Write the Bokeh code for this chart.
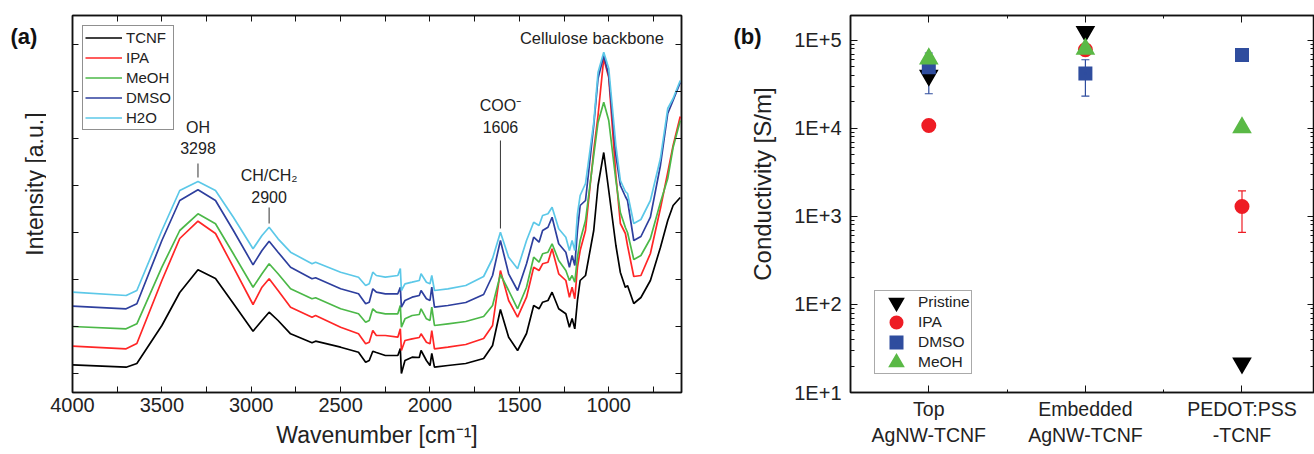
from bokeh.plotting import figure
from bokeh.layouts import row
from bokeh.models import (Range1d, FixedTicker, LinearAxis, Legend, LegendItem,
                          Label, Whisker, TeeHead, ColumnDataSource)
from bokeh.embed import file_html
from bokeh.resources import INLINE

FONT = "Liberation Sans"
H = 454

# ---------------- Panel (a): FTIR spectra ----------------
wavenumber = [4000, 3700, 3640, 3500, 3400, 3298, 3200, 3100, 2990, 2940,
              2900, 2850, 2780, 2660, 2640, 2500, 2400, 2360, 2340, 2320,
              2300, 2250, 2180, 2166, 2160, 2140, 2100, 2060, 2050, 2020,
              2000, 1990, 1975, 1900, 1800, 1700, 1650, 1606, 1560, 1510,
              1460, 1420, 1390, 1370, 1340, 1317, 1280, 1240, 1220, 1205,
              1190, 1175, 1160, 1130, 1084, 1060, 1028, 1000, 960, 935,
              907, 895, 860, 820, 767, 711, 670, 640, 600]

tcnf = [27.7, 25.3, 29, 67, 100, 122.7, 114, 89, 61.3, 72,
        80.3, 72, 58.7, 49.7, 51.3, 45.3, 40.3, 30.3, 32, 41.3,
        40, 37, 37, 44, 19, 32, 35.3, 35, 42, 32,
        27, 39, 25.3, 27, 29, 34, 47, 83, 55.3, 42,
        59, 87, 83.7, 90.3, 92, 100.3, 83.7, 78.7, 65.3, 74,
        63.7, 92, 112, 117, 162, 207, 240, 202, 147, 120,
        105, 107, 89, 95, 112, 145, 172, 187, 195]

ipa = [46.3, 43.7, 49, 112, 154, 171.3, 159, 125.3, 88, 105.3,
       113.7, 102, 85.3, 75.3, 77, 65.3, 58.7, 48.7, 50.3, 62,
       57, 57, 55.3, 63.7, 42, 52, 53.7, 55, 58.7, 50.3,
       48.7, 62, 43.7, 45.3, 48, 54, 67, 122, 92, 75.3,
       95.3, 125.3, 122, 128.7, 130.3, 143.7, 118.7, 112, 95.3, 105.3,
       93.7, 125.3, 142, 162, 242, 277, 334, 315, 217, 169,
       159, 147, 116, 117, 139, 184, 220, 247, 276]

meoh = [66, 63.7, 68.7, 125.3, 162, 178.7, 168.7, 138.7, 105.3, 118.7,
        128.7, 118.7, 103.7, 93.7, 94.7, 83.7, 78.7, 70.3, 72, 83.7,
        80.3, 78.7, 78.7, 87, 65.3, 73.7, 77, 78, 83.7, 73.7,
        72, 85.3, 67, 68.7, 71, 76, 87, 118, 102, 83.7,
        105.3, 135.3, 130.3, 138.7, 140.3, 148.7, 132, 122, 112, 117,
        110.3, 135.3, 152, 172, 237, 270, 290.3, 272, 212, 180,
        165, 160, 133, 137, 154, 190, 214, 245, 272]

dmso = [86.3, 83.7, 88.7, 152, 192, 202.7, 192, 162, 127.7, 142,
        151.3, 140.3, 125.3, 113.7, 114.7, 103.7, 98.7, 88.7, 90.3, 103.7,
        100.3, 98.7, 98.7, 105.3, 85.3, 92, 95.3, 97, 102, 93.7,
        92, 105.3, 85.3, 87, 90, 98, 117, 152, 118.7, 102,
        128.7, 155.3, 150.3, 162, 165.3, 175.3, 148.7, 140.3, 125.3, 137,
        127, 162, 187, 192, 267, 314, 337, 317, 237, 207,
        196, 192, 152, 156, 175.3, 227, 279, 292, 310]

h2o = [100.3, 97, 102, 162, 202, 211, 202, 175.3, 143.7, 157,
       165.3, 153.7, 140.3, 128.7, 130.3, 120.3, 115.3, 107, 108.7, 120.3,
       117, 115.3, 117, 124, 102, 108.7, 110.3, 112, 118.7, 110.3,
       108.7, 117, 102, 103.7, 107, 116, 134, 160.3, 135.3, 123.7,
       152, 170.3, 167, 177, 178.7, 185.3, 163.7, 155.3, 142, 152,
       142, 178.7, 197, 209, 270, 320, 340.3, 324, 247, 212,
       201, 199, 169, 173, 192, 234, 284, 294, 312]

spectra_names = ["TCNF", "IPA", "MeOH", "DMSO", "H2O"]
spectra_colors = ["#000000", "#ff2626", "#4cb848", "#2e3f9e", "#5cc8e8"]

peak_names = ["OH", "CH/CH\u2082", "COO\u207b"]
peak_wavenumbers = [3298, 2900, 1606]
peak_name_y = [265, 217, 287]
peak_number_y = [245, 195.5, 265.5]
leader_bottom = [215, 169, 164]
leader_top = [229, 185, 252]

x_major = [4000, 3500, 3000, 2500, 2000, 1500, 1000]
x_minor = [3750, 3250, 2750, 2250, 1750, 1250, 750]
y_ticks_a = [19, 66, 113, 160, 207, 254, 301, 348]


def style_ticks(ax, tick_len=6, minor_len=6):
    ax.major_tick_in = tick_len
    ax.major_tick_out = 0
    ax.minor_tick_in = minor_len
    ax.minor_tick_out = 0
    ax.axis_line_width = 1.5
    ax.axis_line_color = "#111111"
    ax.major_tick_line_color = "#111111"
    ax.minor_tick_line_color = "#111111"
    ax.major_label_text_font = FONT
    ax.major_label_text_color = "#222222"
    ax.axis_label_text_font = FONT
    ax.axis_label_text_font_style = "normal"
    ax.axis_label_text_color = "#222222"


def hide_labels(ax):
    ax.major_label_text_color = None
    ax.major_label_text_alpha = 0
    ax.major_label_standoff = 0
    ax.axis_label = None


def side_panel(width):
    f = figure(width=width, height=H, x_range=Range1d(0, width), y_range=Range1d(0, H),
               x_axis_location=None, y_axis_location=None, min_border=0,
               output_backend="svg", toolbar_location=None)
    f.outline_line_color = None
    f.grid.visible = False
    return f


# left strip for panel (a): panel letter and y-axis title
fa = side_panel(46)
fa.add_layout(Label(x=10, y=H - 25, text="(a)", text_align="left", text_baseline="middle",
                    text_font=FONT, text_font_size="22px", text_font_style="bold",
                    text_color="#111111"))
fa.add_layout(Label(x=34, y=H - 203, text="Intensity [a.u.]", angle=90, angle_units="deg",
                    text_align="center", text_baseline="middle",
                    text_font=FONT, text_font_size="23px", text_color="#222222"))

pa = figure(width=662, height=H, x_range=Range1d(4000, 593), y_range=Range1d(0, 377),
            output_backend="svg", toolbar_location=None,
            min_border_left=26, min_border_right=27, min_border_top=15, min_border_bottom=62)
pa.grid.visible = False
pa.outline_line_color = "#111111"
pa.outline_line_width = 1.5

items_a = []
for name, vals, col in zip(spectra_names, [tcnf, ipa, meoh, dmso, h2o], spectra_colors):
    r = pa.line(wavenumber, vals, line_color=col, line_width=1.7)
    items_a.append(LegendItem(label=name, renderers=[r]))

pa.segment(x0=peak_wavenumbers, y0=leader_bottom, x1=peak_wavenumbers, y1=leader_top,
           line_color="#333333", line_width=1)

for nm, wn, ny, nuy in zip(peak_names, peak_wavenumbers, peak_name_y, peak_number_y):
    pa.add_layout(Label(x=wn, y=ny, text=nm, text_align="center", text_baseline="middle",
                        text_font=FONT, text_font_size="16px", text_color="#222222"))
    pa.add_layout(Label(x=wn, y=nuy, text=str(wn), text_align="center", text_baseline="middle",
                        text_font=FONT, text_font_size="16px", text_color="#222222"))
pa.add_layout(Label(x=1094, y=355, text="Cellulose backbone", text_align="center",
                    text_baseline="middle", text_font=FONT, text_font_size="16.5px",
                    text_color="#222222"))

xa = pa.xaxis[0]
xa.ticker = FixedTicker(ticks=x_major, minor_ticks=x_minor)
style_ticks(xa)
xa.major_label_text_font_size = "20px"
xa.major_label_standoff = 5
xa.axis_label = "Wavenumber [cm\u207b\u00b9]"
xa.axis_label_text_font_size = "23px"
xa.axis_label_standoff = 7

ya = pa.yaxis[0]
ya.ticker = FixedTicker(ticks=y_ticks_a)
style_ticks(ya)
hide_labels(ya)

top_a = LinearAxis(ticker=FixedTicker(ticks=x_major, minor_ticks=x_minor))
style_ticks(top_a)
hide_labels(top_a)
pa.add_layout(top_a, "above")
right_a = LinearAxis(ticker=FixedTicker(ticks=y_ticks_a))
style_ticks(right_a)
hide_labels(right_a)
pa.add_layout(right_a, "right")

leg_a = Legend(items=items_a, location="top_left", margin=10, padding=2, spacing=1,
               glyph_width=37, glyph_height=19, label_height=19, label_standoff=4,
               label_text_font=FONT, label_text_font_size="15px", label_text_color="#222222",
               border_line_color="#222222", border_line_width=1, background_fill_alpha=1)
pa.add_layout(leg_a)

# ---------------- Panel (b): conductivity ----------------
sample_pos = [1, 2, 3]
sample_labels = ["Top\nAgNW-TCNF", "Embedded\nAgNW-TCNF", "PEDOT:PSS\n-TCNF"]
pristine = [4.0e4, 1.26e5, 21.5]
ipa_cond = [1.08e4, 7.83e4, 1.30e3]
dmso_cond = [4.95e4, 4.22e4, 6.83e4]
meoh_cond = [6.2e4, 8.0e4, 1.02e4]

dmso_err_pos = [1, 2]
dmso_err_upper = [7.2e4, 6.03e4]
dmso_err_lower = [2.48e4, 2.33e4]
ipa_err_pos = [3]
ipa_err_upper = [1.95e3]
ipa_err_lower = [6.6e2]

y_major_b = [10, 100, 1000, 10000, 100000]
y_minor_b = [m * d for d in [10, 100, 1000, 10000, 100000] for m in range(2, 10)]

# left strip for panel (b): panel letter and y-axis title
fb = side_panel(72)
fb.add_layout(Label(x=25, y=H - 25, text="(b)", text_align="left", text_baseline="middle",
                    text_font=FONT, text_font_size="22px", text_font_style="bold",
                    text_color="#111111"))
fb.add_layout(Label(x=54, y=H - 203, text="Conductivity [S/m]", angle=90, angle_units="deg",
                    text_align="center", text_baseline="middle",
                    text_font=FONT, text_font_size="24px", text_color="#222222"))

pb = figure(width=534, height=H, x_range=Range1d(0.5, 3.463), y_range=Range1d(10, 1.92e5),
            y_axis_type="log", output_backend="svg", toolbar_location=None,
            min_border_left=70, min_border_right=0, min_border_top=15, min_border_bottom=62)
pb.grid.visible = False
pb.outline_line_color = "#111111"
pb.outline_line_width = 1.5

C_BLACK, C_RED, C_BLUE, C_GREEN = "#000000", "#ee1c24", "#2f4d9e", "#5ab946"

r_pr = pb.scatter(sample_pos, pristine, marker="inverted_triangle", size=11,
                  fill_color=C_BLACK, line_color=C_BLACK, line_width=5, line_join="miter")
r_ipa = pb.scatter(sample_pos, ipa_cond, marker="circle", size=9,
                   fill_color=C_RED, line_color=C_RED, line_width=6)
r_dm = pb.scatter(sample_pos, dmso_cond, marker="square", size=8,
                  fill_color=C_BLUE, line_color=C_BLUE, line_width=6, line_join="miter")
r_me = pb.scatter(sample_pos, meoh_cond, marker="triangle", size=11,
                  fill_color=C_GREEN, line_color=C_GREEN, line_width=5, line_join="miter")

src_dm = ColumnDataSource(dict(x=dmso_err_pos, up=dmso_err_upper, lo=dmso_err_lower))
pb.add_layout(Whisker(source=src_dm, base="x", upper="up", lower="lo", dimension="height",
                      line_color=C_BLUE, line_width=1.2,
                      upper_head=TeeHead(size=8, line_color=C_BLUE, line_width=1.2),
                      lower_head=TeeHead(size=8, line_color=C_BLUE, line_width=1.2)))
src_ip = ColumnDataSource(dict(x=ipa_err_pos, up=ipa_err_upper, lo=ipa_err_lower))
pb.add_layout(Whisker(source=src_ip, base="x", upper="up", lower="lo", dimension="height",
                      line_color=C_RED, line_width=1.2,
                      upper_head=TeeHead(size=8, line_color=C_RED, line_width=1.2),
                      lower_head=TeeHead(size=8, line_color=C_RED, line_width=1.2)))

xb = pb.xaxis[0]
xb.ticker = FixedTicker(ticks=sample_pos, minor_ticks=[1.5, 2.5])
style_ticks(xb, 7, 3)
xb.major_label_overrides = {p: l for p, l in zip(sample_pos, sample_labels)}
xb.major_label_text_font_size = "19.5px"
xb.major_label_standoff = 5

yb = pb.yaxis[0]
yb.ticker = FixedTicker(ticks=y_major_b, minor_ticks=y_minor_b)
style_ticks(yb, 7, 4)
yb.major_label_overrides = {v: "1E+%d" % (i + 1) for i, v in enumerate(y_major_b)}
yb.major_label_text_font_size = "20px"
yb.major_label_standoff = 9

top_b = LinearAxis(ticker=FixedTicker(ticks=sample_pos, minor_ticks=[1.5, 2.5]))
style_ticks(top_b, 7, 3)
hide_labels(top_b)
pb.add_layout(top_b, "above")
right_b = LinearAxis(ticker=FixedTicker(ticks=y_major_b, minor_ticks=y_minor_b))
style_ticks(right_b, 7, 4)
hide_labels(right_b)
pb.add_layout(right_b, "right")

leg_b = Legend(items=[LegendItem(label="Pristine", renderers=[r_pr]),
                      LegendItem(label="IPA", renderers=[r_ipa]),
                      LegendItem(label="DMSO", renderers=[r_dm]),
                      LegendItem(label="MeOH", renderers=[r_me])],
               location=(24, 18), margin=0, padding=1, spacing=0,
               glyph_width=40, glyph_height=20, label_height=20, label_standoff=2,
               label_text_font=FONT, label_text_font_size="15.5px", label_text_color="#222222",
               border_line_color="#555555", border_line_width=1, background_fill_alpha=1)
pb.add_layout(leg_b)

layout = row(fa, pa, fb, pb)
open("out.html", "w").write(file_html(layout, INLINE))
